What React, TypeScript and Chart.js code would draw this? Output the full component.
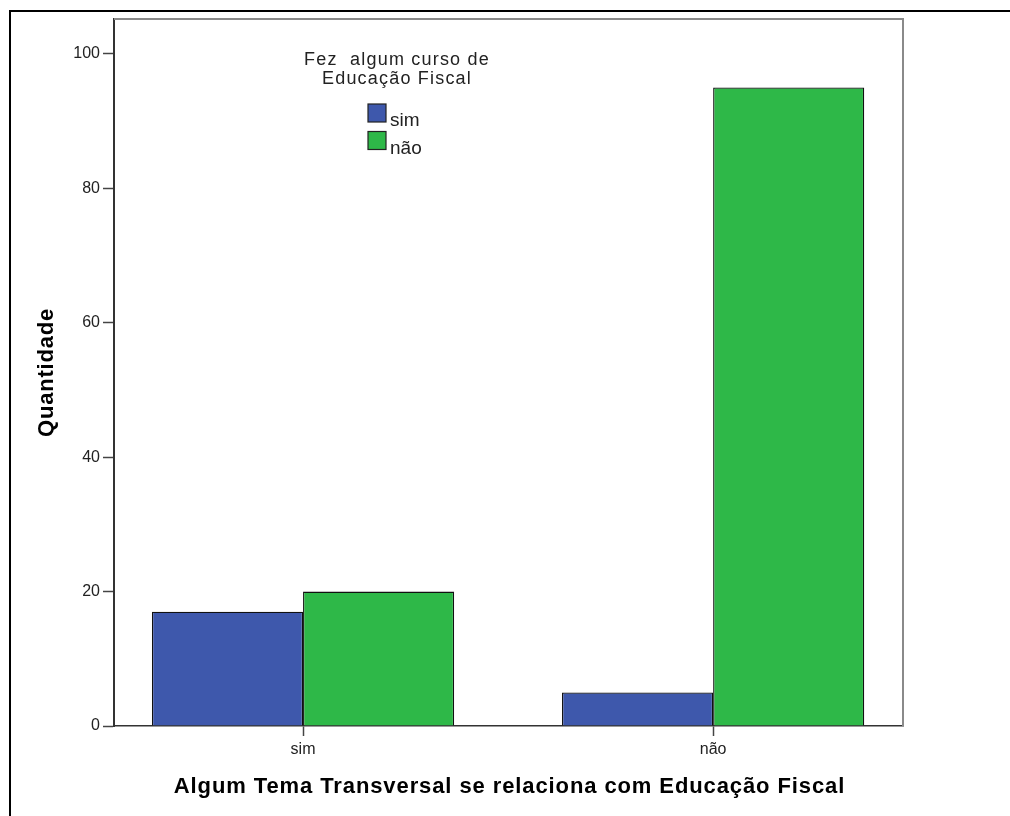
import React, { useEffect, useRef } from "react";
import { Chart, registerables } from "chart.js";

Chart.register(...registerables);

// ---- data ----
const categories = ["sim", "não"];
const seriesNames = ["sim", "não"];
const seriesSim = [17, 5];
const seriesNao = [20, 95];
const yTickValues = [0, 20, 40, 60, 80, 100];
const legendTitleLines = ["Fez  algum curso de", "Educação Fiscal"];
const xTitle = "Algum Tema Transversal se relaciona com Educação Fiscal";
const yTitle = "Quantidade";

const colors = ["#3E58AC", "#2EB848"];
const FONT = "'Liberation Sans', Arial, sans-serif";

const decorPlugin = {
  id: "decor",
  afterDraw(chart: any) {
    const { ctx, chartArea: a } = chart;
    ctx.save();
    // outer frame (left + top visible)
    ctx.strokeStyle = "#000";
    ctx.lineWidth = 2;
    ctx.beginPath();
    ctx.moveTo(10, 816);
    ctx.lineTo(10, 11);
    ctx.lineTo(1010, 11);
    ctx.stroke();

    // plot frame top & right
    ctx.strokeStyle = "#8a8a8a";
    ctx.lineWidth = 2;
    ctx.beginPath();
    ctx.moveTo(a.left, a.top);
    ctx.lineTo(a.right, a.top);
    ctx.lineTo(a.right, a.bottom);
    ctx.stroke();

    // axis titles
    ctx.fillStyle = "#000";
    ctx.font = `bold 22px ${FONT}`;
    (ctx as any).letterSpacing = "0.9px";
    ctx.textAlign = "center";
    ctx.textBaseline = "alphabetic";
    ctx.fillText(xTitle, (a.left + a.right) / 2 + 1, 793);

    ctx.save();
    ctx.translate(53, (a.top + a.bottom) / 2);
    ctx.rotate(-Math.PI / 2);
    (ctx as any).letterSpacing = "0.8px";
    ctx.fillText(yTitle, 0, 0);
    ctx.restore();

    // legend
    const lx = 397;
    ctx.fillStyle = "#222";
    ctx.font = `18px ${FONT}`;
    (ctx as any).letterSpacing = "1.2px";
    ctx.textAlign = "center";
    ctx.fillText(legendTitleLines[0], lx, 65);
    ctx.fillText(legendTitleLines[1], lx, 84);

    (ctx as any).letterSpacing = "0px";
    ctx.font = `19px ${FONT}`;
    ctx.textAlign = "left";
    seriesNames.forEach((name, i) => {
      const sy = 104 + i * 27.5;
      ctx.fillStyle = colors[i];
      ctx.fillRect(368, sy, 18, 18);
      ctx.strokeStyle = "#222";
      ctx.lineWidth = 1.2;
      ctx.strokeRect(368, sy, 18, 18);
      ctx.fillStyle = "#222";
      ctx.fillText(name, 390, sy + 22);
    });
    ctx.restore();
  },
};

export default function App() {
  const canvasRef = useRef<HTMLCanvasElement | null>(null);

  useEffect(() => {
    if (!canvasRef.current) return;
    const datasets = [seriesSim, seriesNao].map((vals, si) => ({
      label: seriesNames[si],
      data: vals.map((y, i) => ({ x: i, y })),
      backgroundColor: colors[si],
      borderColor: "#111",
      borderWidth: 1.3,
      categoryPercentage: 0.737,
      barPercentage: 1,
    }));

    const chart = new Chart(canvasRef.current, {
      type: "bar",
      data: { datasets },
      options: {
        animation: false,
        responsive: false,
        devicePixelRatio: 1,
        layout: { padding: { left: 0, top: 19, right: 107, bottom: 0 } },
        plugins: {
          legend: { display: false },
          tooltip: { enabled: false },
        },
        scales: {
          x: {
            type: "linear",
            min: -0.461,
            max: 1.463,
            offset: false,
            afterBuildTicks: (scale: any) => {
              scale.ticks = categories.map((_, i) => ({ value: i }));
            },
            afterFit: (scale: any) => {
              scale.height = 90;
            },
            grid: {
              display: true,
              drawOnChartArea: false,
              drawTicks: true,
              tickLength: 10,
              tickColor: "#444",
              tickWidth: 1.5,
              offset: false,
            },
            border: { display: true, color: "#333", width: 1.5 },
            ticks: {
              padding: 4,
              autoSkip: false,
              maxRotation: 0,
              color: "#222",
              font: { family: FONT, size: 16 },
              callback: (v: any) => categories[v as number] ?? "",
            },
          },
          y: {
            type: "linear",
            min: 0,
            max: 105.2,
            afterBuildTicks: (scale: any) => {
              scale.ticks = yTickValues.map((v) => ({ value: v }));
            },
            afterFit: (scale: any) => {
              scale.width = 114;
            },
            grid: {
              display: true,
              drawOnChartArea: false,
              drawTicks: true,
              tickLength: 11,
              tickColor: "#444",
              tickWidth: 1.5,
            },
            border: { display: true, color: "#333", width: 2 },
            ticks: {
              padding: 3,
              color: "#222",
              font: { family: FONT, size: 16 },
            },
          },
        },
      } as any,
      plugins: [decorPlugin],
    });
    return () => chart.destroy();
  }, []);

  return (
    <div style={{ position: "absolute", left: 0, top: 0, width: 1010, height: 816, background: "#fff" }}>
      <canvas ref={canvasRef} width={1010} height={816} style={{ display: "block", width: 1010, height: 816 }} />
    </div>
  );
}
